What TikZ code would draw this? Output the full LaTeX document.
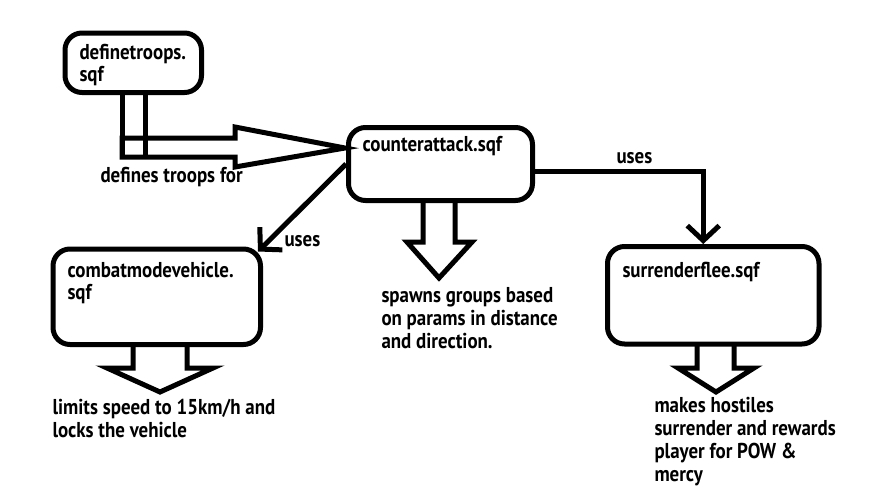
\documentclass[tikz,border=0pt]{standalone}
\usepackage{fontspec}
\setmainfont{PT Sans}[FakeStretch=0.88]
\usetikzlibrary{arrows.meta,calc}
\begin{document}
\begin{tikzpicture}[x=1pt,y=-1pt,
  line width=5pt,
  box/.style={draw, rounded corners=17pt, line width=5pt, inner sep=0pt},
  lbl/.style={anchor=base west, inner sep=0pt, align=left, font=\bfseries\fontsize{21.5}{23}\selectfont},
  lbltight/.style={lbl, font=\bfseries\fontsize{21.5}{22}\selectfont},
  conn/.style={line width=5pt, -{Straight Barb[length=15pt,width=32pt,line width=5pt]}},
  blockarrow/.style={line width=5pt, line join=miter}
]
\useasboundingbox[fill=white] (0,0) rectangle (891,499);
% boxes
\node[box, minimum width=136.5pt, minimum height=59.5pt] (def) at (133.25,62.75) {};
\node[box, minimum width=184pt, minimum height=73pt] (counter) at (440.5,164) {};
\node[box, minimum width=207.5pt, minimum height=95.5pt] (combat) at (156.75,296.75) {};
\node[box, minimum width=211.5pt, minimum height=97.5pt] (surr) at (713.25,295.25) {};
% texts (base anchor = baseline of the last line)
\node[lbltight] (tdef) at (77,81) {definetroops.\\sqf};
\node[lbl] (tcounter) at (360,151) {counterattack.sqf};
\node[lbltight] (tcombat) at (65,299) {combatmodevehicle.\\sqf};
\node[lbl] (tsurr) at (620,277) {surrenderflee.sqf};
\node[lbl] (tdefines) at (98,182) {defines troops for};
\node[lbl] (tuses1) at (282,246) {uses};
\node[lbl] (tuses2) at (614,163) {uses};
\node[lbl] (tspawn) at (379,348) {spawns groups based\\on params in distance\\and direction.};
\node[lbl] (tlimits) at (50,437) {limits speed to 15km/h and\\locks the vehicle};
\node[lbl] (tmakes) at (652,481) {makes hostiles\\surrender and rewards\\player for POW \&\\mercy};
% connectors
\draw[conn] (counter.west) -- ($(combat.north east)+(-5,5)$);
\draw[conn] ($(counter.east)+(0,7)$) -| ($(surr.north)+(-10,0)$);
% block arrow definetroops -> counterattack
\coordinate (deftip) at ($(counter.west)+(-1,-16)$);
\draw[blockarrow] (122,138) -- (235,138) -- (235,127) -- (deftip) -- (235,167) -- (235,157) -- (122,157) -- cycle;
\draw[blockarrow] (122,92.5) -- (122,157);
\draw[blockarrow] (145,92.5) -- (145,157);
% block arrows down
\draw[blockarrow] (423,200.5) -- (423,242) -- (407,242) -- (439,278) -- (472,242) -- (455,242) -- (455,200.5);
\draw[blockarrow] (133,344.5) -- (133,368) -- (107,368) -- (160,392) -- (213,368) -- (187,368) -- (187,344.5);
\draw[blockarrow] (697,344) -- (697,368) -- (678,368) -- (716,392) -- (754,368) -- (734,368) -- (734,344);
\end{tikzpicture}
\end{document}
